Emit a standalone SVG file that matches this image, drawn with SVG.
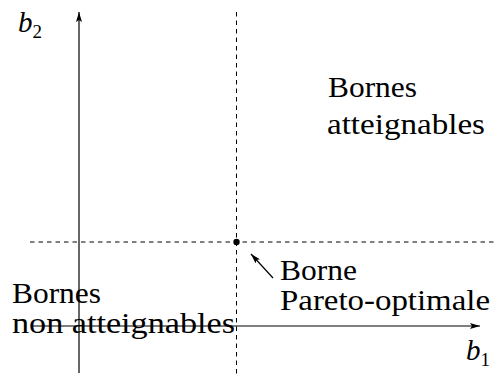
<svg xmlns="http://www.w3.org/2000/svg" width="494" height="378" viewBox="0 0 494 378">
<style>
  .lbl { font-family: "Liberation Serif", "DejaVu Serif", serif; font-size: 29px; fill: #000; }
  .var { font-family: "Liberation Serif", "DejaVu Serif", serif; font-size: 29px; font-style: italic; fill: #000; }
  .sub { font-size: 19px; font-style: normal; }
  .axis { stroke: #000; stroke-width: 1.2; fill: none; }
  .dash { stroke: #000; stroke-width: 1; stroke-dasharray: 4.5 4; fill: none; }
</style>
<defs>
  <marker id="ah" viewBox="0 0 10 6" refX="10" refY="3" markerWidth="10" markerHeight="6" markerUnits="userSpaceOnUse" orient="auto">
    <path d="M0,0 L10,3 L0,6 L2,3 Z" fill="#000"/>
  </marker>
</defs>
<rect width="494" height="378" fill="#fff"/>
<g id="connectors">
  <line class="dash" x1="236.5" y1="12" x2="236.5" y2="376"/>
  <line class="dash" x1="30" y1="242" x2="494" y2="242"/>
  <line class="axis" x1="79" y1="373" x2="79" y2="12" marker-end="url(#ah)"/>
  <line class="axis" x1="32" y1="326" x2="480" y2="326" marker-end="url(#ah)"/>
  <line class="axis" x1="273" y1="278" x2="251" y2="254" marker-end="url(#ah)"/>
</g>
<g id="point">
  <circle cx="236.5" cy="242" r="3.2" fill="#000"/>
</g>
<g id="axis-b2">
  <text class="var" x="18" y="32">b<tspan class="sub" dy="6">2</tspan></text>
</g>
<g id="axis-b1">
  <text class="var" x="466" y="360">b<tspan class="sub" dy="6">1</tspan></text>
</g>
<g id="region-attainable">
  <text class="lbl" x="328" y="97" textLength="89" lengthAdjust="spacingAndGlyphs">Bornes</text>
  <text class="lbl" x="327" y="134" textLength="158" lengthAdjust="spacingAndGlyphs">atteignables</text>
</g>
<g id="region-unattainable">
  <text class="lbl" x="12" y="303" textLength="89" lengthAdjust="spacingAndGlyphs">Bornes</text>
  <text class="lbl" x="12" y="333" textLength="223" lengthAdjust="spacingAndGlyphs">non atteignables</text>
</g>
<g id="pareto-label">
  <text class="lbl" x="280" y="280" textLength="77" lengthAdjust="spacingAndGlyphs">Borne</text>
  <text class="lbl" x="280" y="310" textLength="210" lengthAdjust="spacingAndGlyphs">Pareto-optimale</text>
</g>
</svg>
